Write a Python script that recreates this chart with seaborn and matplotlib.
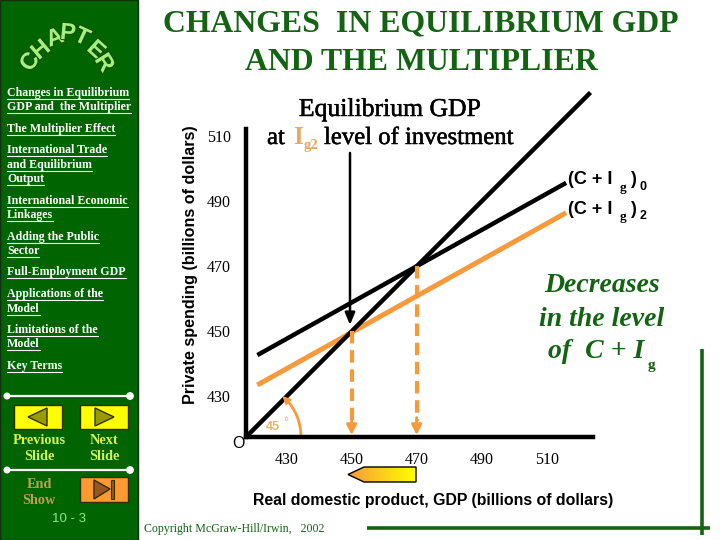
import matplotlib
matplotlib.use("Agg")
import matplotlib.pyplot as plt
import matplotlib.patheffects as pe
from matplotlib.colors import LinearSegmentedColormap
from matplotlib.patches import Arc, Circle, Polygon, Rectangle
import numpy as np
import pandas as pd
import seaborn as sns

# datos
gdp_ticks = [430, 450, 470, 490, 510]
spending_ticks = [430, 450, 470, 490, 510]
line45_x = [417.5, 523.5]
line45_y = [417.5, 523.5]
cig0_x = [421, 516]
cig0_y = [442.7, 495.7]
cig2_x = [421, 516]
cig2_y = [433.5, 486.5]
drop_x = [450, 470]
drop_y = [450, 470]
pointer_x = [449.5, 449.5]
pointer_y = [504.9, 452]

sidebar_items = [
    ("Changes in Equilibrium", 93), ("GDP and  the Multiplier", 107),
    ("The Multiplier Effect", 129),
    ("International Trade", 150), ("and Equilibrium", 165), ("Output", 179),
    ("International Economic", 201), ("Linkages", 215),
    ("Adding the Public", 237), ("Sector", 251),
    ("Full-Employment GDP", 272),
    ("Applications of the", 294), ("Model", 309),
    ("Limitations of the", 330), ("Model", 344),
    ("Key Terms", 366),
]
chapter_letters = [("C", 30, 62, 55), ("H", 41, 50, 40), ("A", 55, 38, 20), ("P", 68, 33, -5),
                   ("T", 82, 37, -25), ("E", 96, 50, -42), ("R", 104, 63, -58)]

GREEN = "#136313"
SIDE = "#006400"
ORANGE = "#f79a3c"
W, H = 720, 540
SERIF = "Liberation Serif"
SANS = "Liberation Sans"

sns.set_theme(style="white")
plt.rcParams["font.family"] = [SERIF, "DejaVu Sans"]

fig = plt.figure(figsize=(7.2, 5.4), dpi=100, facecolor="white")

# capa de decoracion en pixeles
deco = fig.add_axes([0, 0, 1, 1], zorder=1)
deco.set_xlim(0, W)
deco.set_ylim(H, 0)
deco.axis("off")


def txt(x, y, s, size, color="black", ha="center", family=SERIF, **kw):
    return deco.text(x, y, s, fontsize=size, color=color, ha=ha, va="center", family=family, **kw)


# panel lateral
deco.add_patch(Rectangle((0, 0), 138, H, fc=SIDE, ec="#103010", lw=1))
for letter, x, y, rot in chapter_letters:
    txt(x, y, letter, 17, "#a4f07c", family=SANS, weight="bold", rotation=rot,
        path_effects=[pe.withStroke(linewidth=1.4, foreground="#1c4a10")])

fig.canvas.draw()
rend = fig.canvas.get_renderer()
for item, y in sidebar_items:
    t = txt(7, y, item, 8.6, "white", ha="left", weight="bold")
    width = t.get_window_extent(rend).width
    deco.plot([7, 7 + width], [y + 6, y + 6], color="white", lw=0.8)

for y in (396, 470):
    deco.plot([7, 130], [y, y], color="white", lw=1.6)
    deco.add_patch(Circle((7, y), 2.8, color="white", zorder=3))
    deco.add_patch(Circle((130, y), 3.2, color="white", zorder=3))

# botones
deco.add_patch(Rectangle((14, 405), 48, 24, fc="#ffff00", ec="#303000", lw=1))
deco.add_patch(Polygon([(28, 417), (47, 408), (47, 426)], fc="#999900", ec="#303000", lw=1))
deco.add_patch(Rectangle((80, 405), 48, 24, fc="#ffff00", ec="#303000", lw=1))
deco.add_patch(Polygon([(114, 417), (95, 408), (95, 426)], fc="#999900", ec="#303000", lw=1))
deco.add_patch(Rectangle((80, 477), 48, 25, fc="#ff9933", ec="#303000", lw=1))
deco.add_patch(Polygon([(110, 489), (94, 480), (94, 499)], fc="#995522", ec="#303000", lw=1))
deco.add_patch(Rectangle((111, 480), 3, 19, fc="#995522", ec="#303000", lw=0.8))

txt(39, 440, "Previous", 10.3, "#d8f050", weight="bold")
txt(39, 457, "Slide", 10.3, "#d8f050", weight="bold")
txt(104, 440, "Next", 10.3, "#d8f050", weight="bold")
txt(104, 456, "Slide", 10.3, "#d8f050", weight="bold")
txt(39, 484, "End", 10.3, "#c0a050", weight="bold")
txt(39, 501, "Show", 10.3, "#c0a050", weight="bold")
txt(69, 519, "10 - 3", 9.5, "#88ee88", family=SANS)

# titulo
txt(421, 24, "CHANGES  IN EQUILIBRIUM GDP", 22.9, GREEN, weight="bold")
txt(421, 62, "AND THE MULTIPLIER", 22.9, GREEN, weight="bold")

# texto del grafico
bold_thin = [pe.withStroke(linewidth=0.35, foreground="black")]
txt(390, 110, "Equilibrium GDP", 18.5, path_effects=bold_thin)
txt(267, 138, "at", 17.8, ha="left", path_effects=bold_thin)
txt(293, 138, "I", 17.8, "#e8a860", ha="left", weight="bold")
txt(304, 146, "g2", 10.5, "#e8a860", ha="left", weight="bold")
txt(324, 138, "level of investment", 17.8, ha="left", path_effects=bold_thin)

for y, sub in ((180, "0"), (209, "2")):
    txt(568, y, "(C + I", 13, ha="left", family=SANS, weight="bold")
    txt(620, y + 8, "g", 9.5, ha="left", weight="bold")
    txt(630, y, ")", 13, ha="left", family=SANS, weight="bold")
    txt(640, y + 7, sub, 9, ha="left", family=SANS, weight="bold")

txt(602, 285, "Decreases", 20, GREEN, style="italic", weight="bold")
txt(602, 319, "in the level", 20, GREEN, style="italic", weight="bold")
txt(596, 352, "of  C + I", 20, GREEN, style="italic", weight="bold")
txt(651, 366, "g", 11, GREEN, weight="bold", ha="center")

txt(191, 265, "Private spending (billions of dollars)", 11.6, rotation=90, family=SANS, weight="bold")
txt(238, 444, "O", 11.5, family=SANS)
txt(433, 500, "Real domestic product, GDP (billions of dollars)", 11.4, family=SANS, weight="bold")
txt(144, 529, "Copyright McGraw-Hill/Irwin,   2002", 8.6, GREEN, ha="left")

# lineas verdes del marco
deco.plot([367, 710], [528, 528], color=GREEN, lw=2.6, solid_capstyle="butt")
deco.plot([702, 702], [349, 535], color=GREEN, lw=2.6, solid_capstyle="butt")

# flecha con degradado
grad = deco.imshow(np.linspace(0, 1, 256).reshape(1, -1), extent=(348, 416, 482, 467), aspect="auto",
                   cmap=LinearSegmentedColormap.from_list("flecha", ["#f79a3c", "#ffff00"]), zorder=2)
arrow = Polygon([(348, 474.5), (364, 467), (416, 467), (416, 482), (364, 482)],
                fc="none", ec="black", lw=1, zorder=3)
deco.add_patch(arrow)
grad.set_clip_path(arrow)
deco.set_xlim(0, W)
deco.set_ylim(H, 0)

# grafico principal
ax = fig.add_axes([246 / W, 1 - 437 / H, 347 / W, 308 / H], zorder=2)
ax.patch.set_alpha(0)
x0 = 417.5
ax.set_xlim(x0, x0 + 347 / 3.25)
ax.set_ylim(x0, x0 + 308 / 3.25)

for xs, ys, col, lw in ((cig2_x, cig2_y, ORANGE, 3.6), (cig0_x, cig0_y, "black", 3.2), (line45_x, line45_y, "black", 3.2)):
    sns.lineplot(data=pd.DataFrame({"x": xs, "y": ys}), x="x", y="y", color=col, lw=lw, ax=ax, clip_on=False,
                 errorbar=None, solid_capstyle="butt")

for x, y in zip(drop_x, drop_y):
    ax.plot([x, x], [y, x0 + 5], color=ORANGE, lw=3, ls=(0, (3, 1.6)), dash_capstyle="butt")
    ax.annotate("", xy=(x, x0 + 0.6), xytext=(x, x0 + 6),
                arrowprops=dict(arrowstyle="-|>,head_width=0.25,head_length=0.5", color=ORANGE, lw=2, shrinkA=0, shrinkB=0))

ax.annotate("", xy=(pointer_x[1], pointer_y[1]), xytext=(pointer_x[0], pointer_y[0]),
            arrowprops=dict(arrowstyle="-|>,head_width=0.25,head_length=0.6", color="black", lw=1.8, shrinkA=0, shrinkB=0))

# angulo de 45 grados
radius = 110 / 3.25
ax.add_patch(Arc((x0, x0), radius, radius, theta1=0, theta2=42, color=ORANGE, lw=2))
ax.annotate("", xy=(x0 + 11.2, x0 + 12.6), xytext=(x0 + 12.6, x0 + 11.2),
            arrowprops=dict(arrowstyle="-|>,head_width=0.2,head_length=0.4", color=ORANGE, lw=1.2, shrinkA=0, shrinkB=0))
ax.text(x0 + 6, x0 + 3.2, "45", fontsize=9, color="#eeb070", family=SANS, weight="bold", ha="left", va="center")
ax.text(x0 + 11.4, x0 + 4.4, "°", fontsize=9, color="#eeb070", family=SANS, ha="left", va="center")

sns.despine(ax=ax)
for side in ("left", "bottom"):
    ax.spines[side].set_linewidth(3.2)
    ax.spines[side].set_color("black")
ax.set_xticks(gdp_ticks)
ax.set_yticks(spending_ticks)
ax.tick_params(length=0, labelsize=11.5, labelcolor="black")
ax.tick_params(axis="x", pad=11)
ax.tick_params(axis="y", pad=11)
ax.set_xlabel("")
ax.set_ylabel("")
for lab in ax.get_xticklabels() + ax.get_yticklabels():
    lab.set_family(SERIF)

fig.savefig("out.png", dpi=100)
